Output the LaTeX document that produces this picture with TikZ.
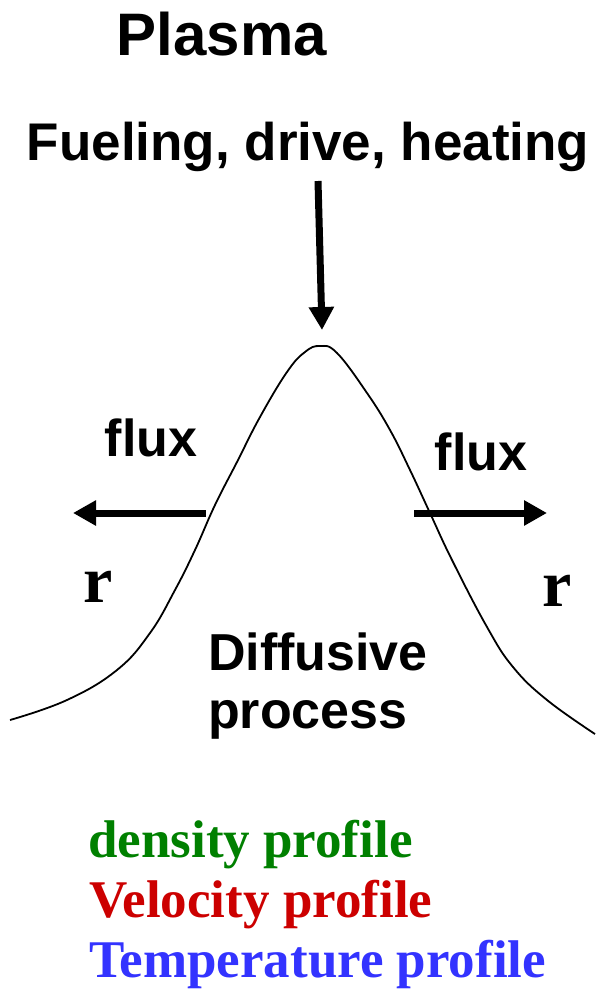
\documentclass[tikz,border=0pt]{standalone}
\usepackage{fontspec}
\setmainfont{Liberation Sans}
\newfontfamily\timesbf{Liberation Serif}[BoldFont={Liberation Serif Bold}]
\usepackage{tikz}
\usetikzlibrary{arrows.meta, positioning}

\definecolor{densgreen}{RGB}{0,128,0}
\definecolor{velred}{RGB}{204,0,0}
\definecolor{tempblue}{RGB}{51,51,255}

\begin{document}
\begin{tikzpicture}[
  x=1pt, y=-1pt,
  sans/.style={inner sep=0pt, anchor=base, font=\bfseries\fontsize{#1}{#1}\selectfont},
  serif/.style={inner sep=0pt, anchor=base, font=\timesbf\bfseries\fontsize{#1}{#1}\selectfont},
  arrow/.style={-{Triangle[length=23pt, width=24pt]}, line width=7pt},
  profile/.style={line width=1.8pt},
]
  \useasboundingbox (0,0) rectangle (595,993);
  \node[sans=60] (plasma) at (222,55) {Plasma};
  \node[sans=53] (fuel) at (308,160) {Fueling, drive, heating};
  % profile curve
  \draw[profile] plot[smooth, tension=0.7] coordinates {
    (10,720) (67,700) (117,670) (150,633) (175,590) (195,550) (215,505)
    (237,462) (260,417) (287,372) (305,352) (320,346) (337,353) (367,393)
    (390,430) (410,470) (430,513) (452,560) (487,627) (513,667) (547,700)
    (595,734)};
  \coordinate (drvtop) at (318,181);
  \coordinate (peak) at (322,330);
  \draw[arrow] (drvtop) -- (peak);
  \coordinate (lfoot) at (206,513);
  \coordinate (lend) at (73,513);
  \coordinate (rfoot) at (414,513);
  \coordinate (rend) at (547,513);
  \draw[arrow] (lfoot) -- (lend);
  \draw[arrow] (rfoot) -- (rend);
  \node[sans=52] (lflux) at (151,456) {flux};
  \node[sans=52] (rflux) at (481,470) {flux};
  \node[serif=66] (lr) at (98,602) {r};
  \node[serif=66] (rr) at (557,606) {r};
  \node[sans=52, anchor=base west] (diff) at (208,670) {Diffusive};
  \node[sans=52, anchor=base west] (proc) at (208,728) {process};
  % profiles
  \node[serif=53, anchor=base west, text=densgreen] (dens) at (88,857) {density profile};
  \node[serif=53, anchor=base west, text=velred] (vel) at (89,917) {Velocity profile};
  \node[serif=53, anchor=base west, text=tempblue] (temp) at (89,977) {Temperature profile};
\end{tikzpicture}
\end{document}
